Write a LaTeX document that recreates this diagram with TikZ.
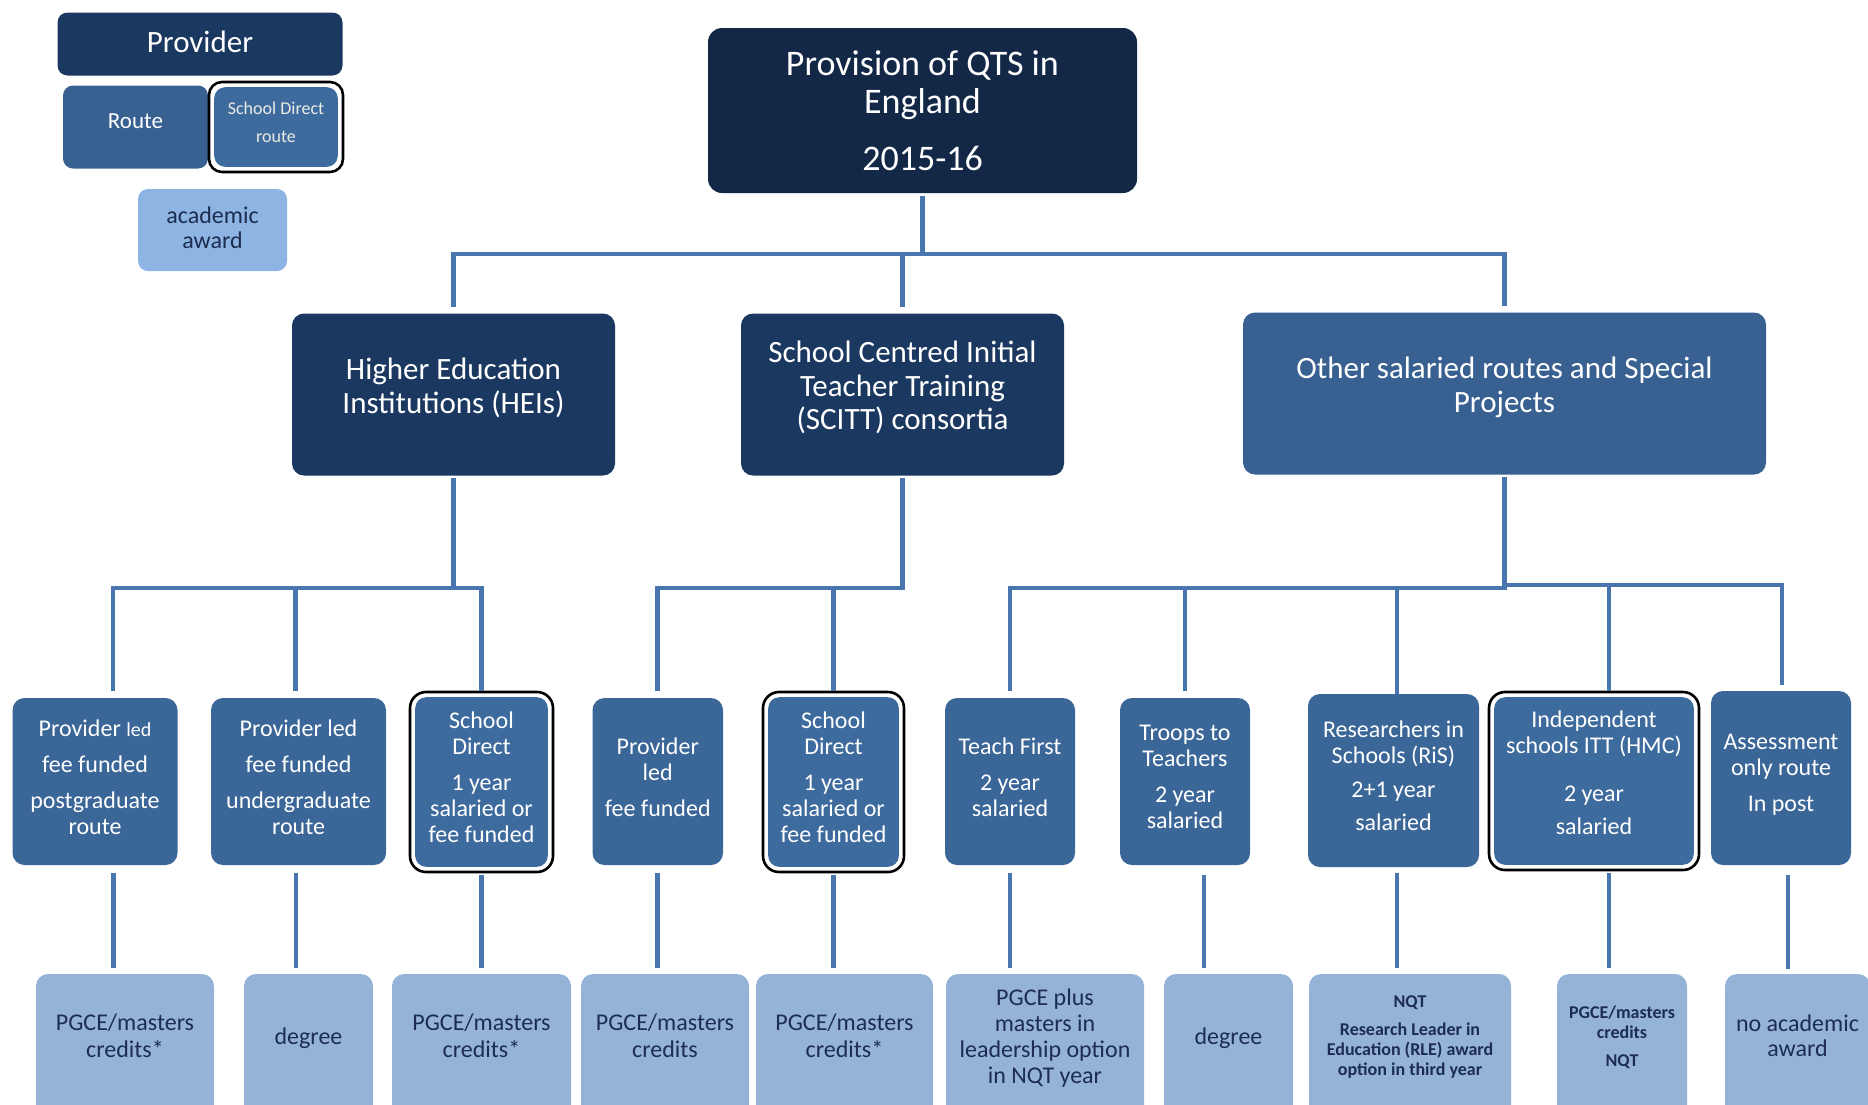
\documentclass[tikz,border=0pt]{standalone}
\usepackage{fontspec}
\setmainfont{Carlito}
\usetikzlibrary{calc}
\definecolor{cTop}{RGB}{19,40,70}
\definecolor{cProv}{RGB}{27,56,96}
\definecolor{cRoute}{RGB}{56,97,146}
\definecolor{cL3}{RGB}{59,102,152}
\definecolor{cSD}{RGB}{62,107,158}
\definecolor{cAward}{RGB}{149,179,215}
\definecolor{cLegAward}{RGB}{141,180,226}
\definecolor{cConn}{RGB}{74,118,176}
\definecolor{cText}{RGB}{28,45,80}
\definecolor{cSDText}{RGB}{235,235,228}
\begin{document}
\begin{tikzpicture}[x=0.5pt,y=-0.5pt,
  box/.style={rounded corners=6pt, inner sep=0pt, align=center, text=white},
  topbox/.style={box, fill=cTop, rounded corners=7pt, font=\fontsize{18}{19}\selectfont},
  provbox/.style={box, fill=cProv, font=\fontsize{15.5}{16.75}\selectfont, text depth=9pt},
  otherbox/.style={box, fill=cRoute, font=\fontsize{15.5}{16.75}\selectfont, text depth=9pt},
  lthree/.style={box, fill=cL3, font=\fontsize{12}{13}\selectfont, text depth=4.8pt},
  sdbox/.style={box, draw=black, line width=1.3pt, fill=white, rounded corners=8pt,
    font=\fontsize{12}{13}\selectfont, text depth=4.8pt,
    path picture={\fill[cSD, rounded corners=5.5pt]
      ([shift={(2.6pt,2.6pt)}]path picture bounding box.south west) rectangle
      ([shift={(-2.6pt,-2.6pt)}]path picture bounding box.north east);}},
  aw/.style={box, fill=cAward, text=cText, font=\fontsize{12}{13.5}\selectfont,
    minimum height=72pt, text depth=10pt},
  awsmall/.style={aw, font=\bfseries\fontsize{9}{10}\selectfont},
  conn/.style={draw=cConn, line width=2.35pt}
]
\useasboundingbox (0,0) rectangle (1868,1104);
\clip (0,0) rectangle (1868,1104);

% legend
\node[provbox, minimum width=142.5pt, minimum height=31.5pt, rounded corners=5pt,
  font=\fontsize{15.5}{17}\selectfont, text depth=2.4pt] (lprov) at (200,44) {Provider};
\node[lthree, fill=cRoute, minimum width=72.5pt, minimum height=41.5pt, rounded corners=5pt,
  font=\fontsize{11.5}{13}\selectfont, text depth=6pt] (lroute) at (135.5,127) {Route};
\node[sdbox, minimum width=67pt, minimum height=45pt, rounded corners=6.5pt,
  font=\fontsize{9}{14}\selectfont, text=cSDText, text depth=5pt] (lsd) at (276,127) {School Direct\\route};
\node[box, fill=cLegAward, text=cText, minimum width=74.5pt, minimum height=41pt,
  rounded corners=5pt, font=\fontsize{12}{12.5}\selectfont, text depth=2.4pt] (laward) at (212.5,230) {academic\\award};

% top
\node[topbox, minimum width=214.5pt, minimum height=82.5pt] (top) at (922.5,110.5)
  {Provision of QTS in\\England\\[9.5pt]2015-16};

% level 1
\node[provbox, minimum width=161.5pt, minimum height=81pt] (hei) at (453.5,394.5)
  {Higher Education\\Institutions (HEIs)};
\node[provbox, minimum width=161.5pt, minimum height=81pt] (scitt) at (902.5,394.5)
  {School Centred Initial\\Teacher Training\\(SCITT) consortia};
\node[otherbox, minimum width=261.5pt, minimum height=81pt] (other) at (1504.5,393.5)
  {Other salaried routes and Special\\Projects};

% level 3
\node[lthree, minimum width=82.5pt, minimum height=83.5pt] (p1) at (95,781.5)
  {Provider {\fontsize{10}{13}\selectfont led}\\[5pt]fee funded\\[5pt]postgraduate\\route};
\node[lthree, minimum width=87.5pt, minimum height=83.5pt] (p2) at (298.5,781.5)
  {Provider led\\[5pt]fee funded\\[5pt]undergraduate\\route};
\node[sdbox, minimum width=71.5pt, minimum height=90pt] (p3) at (481.5,782)
  {School\\Direct\\[5pt]1 year\\salaried or\\fee funded};
\node[lthree, minimum width=65.25pt, minimum height=83.5pt] (p4) at (657.75,781.5)
  {Provider\\led\\[5pt]fee funded};
\node[sdbox, minimum width=70.5pt, minimum height=90pt] (p5) at (833.5,782)
  {School\\Direct\\[5pt]1 year\\salaried or\\fee funded};
\node[lthree, minimum width=65pt, minimum height=83.5pt] (p6) at (1010,781.5)
  {Teach First\\[5pt]2 year\\salaried};
\node[lthree, minimum width=65pt, minimum height=83.5pt] (p7) at (1185,781.5)
  {Troops to\\Teachers\\[5pt]2 year\\salaried};
\node[lthree, minimum width=85.5pt, minimum height=86.5pt] (p8) at (1393.5,780.5)
  {Researchers in\\Schools (RiS)\\[4pt]2+1 year\\[3.5pt]salaried};
\node[sdbox, minimum width=105pt, minimum height=89pt, text depth=8.4pt] (p9) at (1594,781)
  {Independent\\schools ITT (HMC)\\[11pt]2 year\\[3.5pt]salaried};
\node[lthree, minimum width=70pt, minimum height=87pt] (p10) at (1781,778)
  {Assessment\\only route\\[5pt]In post};

% awards
\node[aw, minimum width=89pt] (a1) at (125,1046) {PGCE/masters\\credits*};
\node[aw, minimum width=64.5pt] (a2) at (308.5,1046) {degree};
\node[aw, minimum width=89.5pt] (a3) at (481.5,1046) {PGCE/masters\\credits*};
\node[aw, minimum width=84pt] (a4) at (665,1046) {PGCE/masters\\credits};
\node[aw, minimum width=88.5pt] (a5) at (844.5,1046) {PGCE/masters\\credits*};
\node[aw, minimum width=99pt, font=\fontsize{12}{13}\selectfont] (a6) at (1045,1046)
  {PGCE plus\\masters in\\leadership option\\in NQT year};
\node[aw, minimum width=64.5pt] (a7) at (1228.5,1046) {degree};
\node[awsmall, minimum width=101pt] (a8) at (1410,1046)
  {NQT\\[4pt]Research Leader in\\Education (RLE) award\\option in third year};
\node[awsmall, minimum width=65pt] (a9) at (1622,1046) {PGCE/masters\\credits\\[4pt]NQT};
\node[aw, minimum width=72.5pt, font=\fontsize{12}{12.5}\selectfont] (a10) at (1797.5,1046)
  {no academic\\award};

% connectors
\coordinate (bar0) at (0,254);
\coordinate (bar1) at (0,588);
\coordinate (bar2) at (0,585);

\foreach \c in {hei,scitt,other}
  \draw[conn, shorten <=1.5pt, shorten >=3pt] (top.south) |- (\c.north |- bar0) -- (\c.north);

\draw[conn, shorten <=1pt, shorten >=3.5pt] (hei.south) |- ([xshift=9pt]p1.north |- bar1) -- ([xshift=9pt]p1.north);
\draw[conn, shorten <=1pt, shorten >=3.5pt] (hei.south) |- ([xshift=-1.5pt]p2.north |- bar1) -- ([xshift=-1.5pt]p2.north);
\draw[conn, shorten <=1pt] (hei.south) |- (p3.north |- bar1) -- (p3.north);

\draw[conn, shorten <=1pt, shorten >=3.5pt] (scitt.south) |- (p4.north |- bar1) -- (p4.north);
\draw[conn, shorten <=1pt] (scitt.south) |- (p5.north |- bar1) -- (p5.north);

\draw[conn, shorten <=1pt, shorten >=3.5pt] (other.south) |- (p6.north |- bar1) -- (p6.north);
\draw[conn, shorten <=1pt, shorten >=3.5pt] (other.south) |- (p7.north |- bar1) -- (p7.north);
\draw[conn, shorten <=1pt] (other.south) |- ([xshift=1.75pt]p8.north |- bar1) -- ([xshift=1.75pt]p8.north);
\draw[conn, shorten <=1pt] (other.south) |- ([xshift=7.5pt]p9.north |- bar2) -- ([xshift=7.5pt]p9.north);
\draw[conn, shorten <=1pt, shorten >=3pt] (other.south) |- ([xshift=0.5pt]p10.north |- bar2) -- ([xshift=0.5pt]p10.north);

\draw[conn, shorten <=4pt, shorten >=3pt] ([xshift=9.3pt]p1.south) -- ([xshift=9.3pt]p1.south |- a1.north);
\draw[conn, shorten <=4pt, shorten >=3pt] ([xshift=-1.25pt]p2.south) -- ([xshift=-1.25pt]p2.south |- a2.north);
\draw[conn, shorten <=1pt, shorten >=3pt] (p3.south) -- (p3.south |- a3.north);
\draw[conn, shorten <=4pt, shorten >=3pt] (p4.south) -- (p4.south |- a4.north);
\draw[conn, shorten <=1pt, shorten >=3pt] (p5.south) -- (p5.south |- a5.north);
\draw[conn, shorten <=4pt, shorten >=3pt] (p6.south) -- (p6.south |- a6.north);
\draw[conn, shorten <=5pt, shorten >=3pt] ([xshift=9.5pt]p7.south) -- ([xshift=9.5pt]p7.south |- a7.north);
\draw[conn, shorten <=3pt, shorten >=3pt] ([xshift=1.75pt]p8.south) -- ([xshift=1.75pt]p8.south |- a8.north);
\draw[conn, shorten <=1pt, shorten >=3pt] ([xshift=7.5pt]p9.south) -- ([xshift=7.5pt]p9.south |- a9.north);
\draw[conn, shorten <=5pt, shorten >=2.5pt] ([xshift=3.5pt]p10.south) -- ([xshift=3.5pt]p10.south |- a10.north);
\end{tikzpicture}
\end{document}
